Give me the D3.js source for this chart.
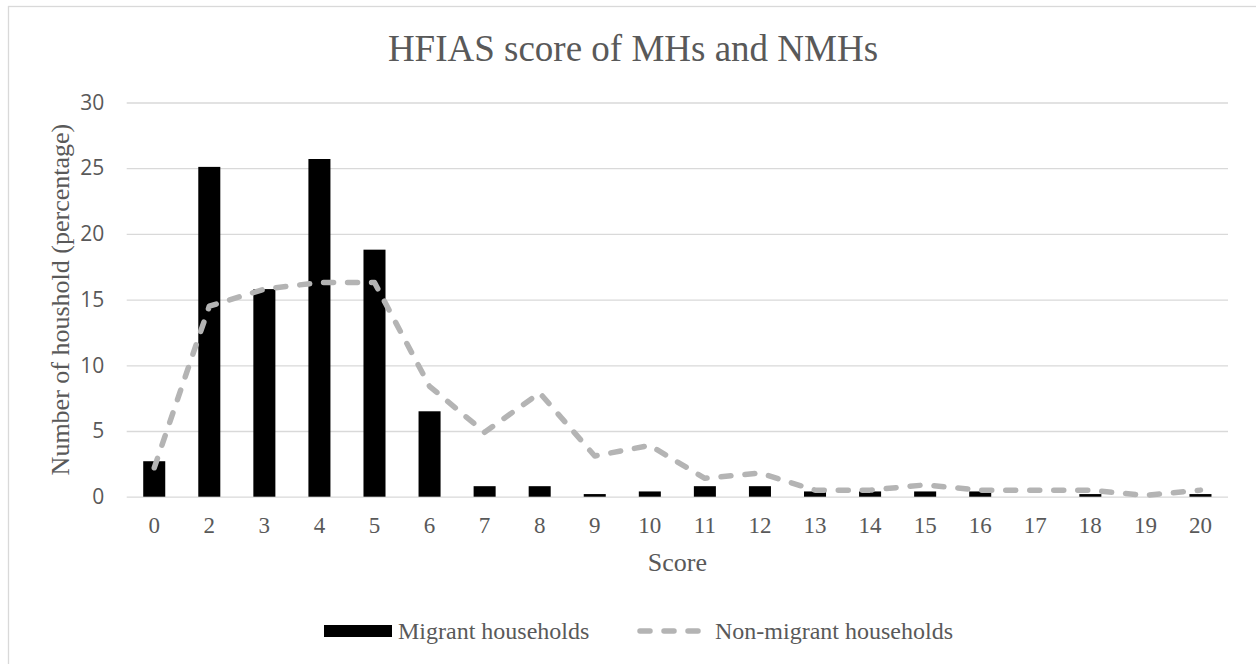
<!DOCTYPE html>
<html>
<head>
<meta charset="utf-8">
<script src="https://cdn.jsdelivr.net/npm/d3@7"></script>
<style>
  html, body { margin: 0; padding: 0; background: #ffffff; }
  svg { display: block; }
</style>
</head>
<body>
<svg id="chart" width="1256" height="664"></svg>
<script>
const title = "HFIAS score of MHs and NMHs";
const xAxisTitle = "Score";
const yAxisTitle = "Number of houshold (percentage)";
const categories = ["0","2","3","4","5","6","7","8","9","10","11","12","13","14","15","16","17","18","19","20"];
const migrant = [2.7, 25.1, 15.8, 25.7, 18.8, 6.5, 0.8, 0.8, 0.2, 0.4, 0.8, 0.8, 0.4, 0.4, 0.4, 0.4, 0, 0.2, 0, 0.2];
const nonMigrant = [2.2, 14.5, 15.8, 16.3, 16.3, 8.4, 4.9, 7.9, 3.1, 3.9, 1.4, 1.8, 0.5, 0.5, 0.9, 0.5, 0.5, 0.5, 0.1, 0.5];
const yTicks = [0, 5, 10, 15, 20, 25, 30];
const seriesNames = ["Migrant households", "Non-migrant households"];

const svg = d3.select("#chart");
const plot = { left: 126.7, right: 1228, top: 102.5, bottom: 496.7 };
const gridColor = "#d9d9d9";
const textColor = "#595959";
const lineColor = "#b4b4b4";
const serif = "'Liberation Serif', 'Times New Roman', serif";
const sans = "'Open Sans', 'Liberation Sans', sans-serif";

// chart frame
svg.append("rect")
  .attr("x", 8.5).attr("y", 6.5)
  .attr("width", 1260).attr("height", 680)
  .attr("fill", "#fff").attr("stroke", gridColor).attr("stroke-width", 1.3);

const x = d3.scaleBand().domain(categories)
  .range([plot.left, plot.right]).paddingInner(0.6).paddingOuter(0.3);
const y = d3.scaleLinear().domain([0, 30]).range([plot.bottom, plot.top]);

// gridlines + y tick labels
const yAxis = d3.axisLeft(y).tickValues(yTicks).tickSize(-(plot.right - plot.left)).tickPadding(10);
const gy = svg.append("g").attr("transform", `translate(${plot.left},0)`).call(yAxis);
gy.select(".domain").remove();
gy.selectAll(".tick line").attr("stroke", gridColor).attr("stroke-width", 1.3);
gy.selectAll(".tick text")
  .attr("x", -22.5)
  .attr("font-family", sans).attr("font-size", 21).attr("fill", textColor);

// bars
svg.append("g").selectAll("rect").data(migrant).join("rect")
  .attr("x", (d, i) => x(categories[i]))
  .attr("width", x.bandwidth())
  .attr("y", d => y(d))
  .attr("height", d => y(0) - y(d))
  .attr("fill", "#000");

// line
const line = d3.line()
  .x((d, i) => x(categories[i]) + x.bandwidth() / 2)
  .y(d => y(d));
svg.append("path").datum(nonMigrant)
  .attr("d", line)
  .attr("fill", "none")
  .attr("stroke", lineColor)
  .attr("stroke-width", 5.5)
  .attr("stroke-linecap", "round")
  .attr("stroke-linejoin", "round")
  .attr("stroke-dasharray", "10,14");

// x axis
const xAxis = d3.axisBottom(x).tickSize(0).tickPadding(0);
const gx = svg.append("g").attr("transform", `translate(0,${plot.bottom})`).call(xAxis);
gx.select(".domain").remove();
gx.selectAll(".tick text")
  .attr("y", 36).attr("dy", null)
  .attr("font-family", serif).attr("font-size", 23).attr("fill", textColor);

// title
svg.append("text")
  .attr("x", 633).attr("y", 61)
  .attr("text-anchor", "middle")
  .attr("font-family", serif).attr("font-size", 37).attr("fill", textColor)
  .text(title);

// axis titles
svg.append("text")
  .attr("x", (plot.left + plot.right) / 2).attr("y", 571)
  .attr("text-anchor", "middle")
  .attr("font-family", serif).attr("font-size", 26).attr("fill", textColor)
  .text(xAxisTitle);

svg.append("text")
  .attr("transform", `translate(69,${(plot.top + plot.bottom) / 2}) rotate(-90)`)
  .attr("text-anchor", "middle")
  .attr("font-family", serif).attr("font-size", 26).attr("fill", textColor)
  .text(yAxisTitle);

// legend
const lg = svg.append("g");
const legendY = 631;
lg.append("rect").attr("x", 324).attr("y", legendY - 6).attr("width", 68).attr("height", 12).attr("fill", "#000");
lg.append("text").attr("x", 398).attr("y", legendY + 8)
  .attr("font-family", serif).attr("font-size", 24).attr("fill", textColor)
  .text(seriesNames[0]);
lg.append("line").attr("x1", 640).attr("x2", 700).attr("y1", legendY).attr("y2", legendY)
  .attr("stroke", lineColor).attr("stroke-width", 5.5)
  .attr("stroke-linecap", "round").attr("stroke-dasharray", "10,14");
lg.append("text").attr("x", 715).attr("y", legendY + 8)
  .attr("font-family", serif).attr("font-size", 24).attr("fill", textColor)
  .text(seriesNames[1]);
</script>
</body>
</html>
